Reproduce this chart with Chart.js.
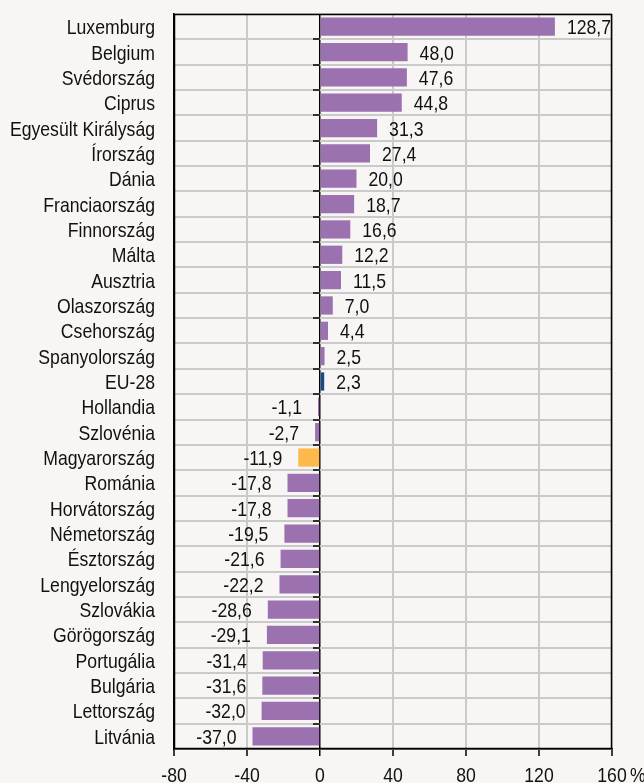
<!DOCTYPE html>
<html lang="hu">
<head>
    <meta charset="UTF-8">
    <title>Változás, %</title>
    <style>
        html, body {
            margin: 0;
            padding: 0;
            background-color: #f7f6f4;
        }

        .wrap {
            position: relative;
            width: 644px;
            height: 783px;
        }
    </style>
    <script src="https://cdn.jsdelivr.net/npm/chart.js"></script>
</head>
<body>
    <div class="wrap">
        <canvas id="chart"></canvas>
    </div>
    <script>
        // Országok és értékek (%)
        const countries = [
            'Luxemburg', 'Belgium', 'Svédország', 'Ciprus', 'Egyesült Királyság',
            'Írország', 'Dánia', 'Franciaország', 'Finnország', 'Málta',
            'Ausztria', 'Olaszország', 'Csehország', 'Spanyolország', 'EU-28',
            'Hollandia', 'Szlovénia', 'Magyarország', 'Románia', 'Horvátország',
            'Németország', 'Észtország', 'Lengyelország', 'Szlovákia', 'Görögország',
            'Portugália', 'Bulgária', 'Lettország', 'Litvánia'
        ];
        const values = [
            128.7, 48.0, 47.6, 44.8, 31.3,
            27.4, 20.0, 18.7, 16.6, 12.2,
            11.5, 7.0, 4.4, 2.5, 2.3,
            -1.1, -2.7, -11.9, -17.8, -17.8,
            -19.5, -21.6, -22.2, -28.6, -29.1,
            -31.4, -31.6, -32.0, -37.0
        ];
        const xTicks = [-80, -40, 0, 40, 80, 120, 160];

        const FONT = '21px "Liberation Sans", Arial, sans-serif';
        const GRID = '#cacaca';
        const barColors = countries.map(c =>
            c === 'Magyarország' ? '#fdb94b' : c === 'EU-28' ? '#1d4a86' : '#9b71b0');

        // keskeny (Arial Narrow-szerű) szöveg: vízszintesen összenyomva
        function narrowText(ctx, text, x, y, align) {
            ctx.save();
            ctx.translate(x, y);
            ctx.scale(0.84, 1);
            ctx.textAlign = align;
            ctx.fillText(text, 0, 0);
            ctx.restore();
        }

        // feliratok, keret, tengelyjelek
        const extras = {
            id: 'extras',
            afterDraw(chart) {
                const ctx = chart.ctx;
                const a = chart.chartArea;
                const x = chart.scales.x;
                const y = chart.scales.y;
                const zero = Math.round(x.getPixelForValue(0));
                ctx.save();
                ctx.strokeStyle = '#000';
                ctx.lineWidth = 1.5;
                // kis jelek a nulla vonalon
                ctx.beginPath();
                for (let i = 1; i < countries.length; i++) {
                    const py = Math.round((y.getPixelForValue(i - 1) + y.getPixelForValue(i)) / 2);
                    ctx.moveTo(zero - 7, py);
                    ctx.lineTo(zero, py);
                }
                ctx.stroke();
                ctx.strokeRect(Math.round(a.left) + 0.5, Math.round(a.top) + 0.5,
                    Math.round(a.right - a.left) - 1, Math.round(a.bottom - a.top) - 1);

                ctx.font = FONT;
                ctx.fillStyle = '#111';
                ctx.textBaseline = 'alphabetic';
                // országnevek
                countries.forEach((c, i) => {
                    narrowText(ctx, c, a.left - 19, y.getPixelForValue(i) + 7.5, 'right');
                });
                // értékcímkék
                chart.getDatasetMeta(0).data.forEach((bar, i) => {
                    const txt = values[i].toFixed(1).replace('.', ',');
                    if (values[i] >= 0) {
                        narrowText(ctx, txt, bar.x + 12, bar.y + 7.5, 'left');
                    } else {
                        narrowText(ctx, txt, bar.x - 16, bar.y + 7.5, 'right');
                    }
                });
                // x tengely feliratai
                xTicks.forEach(v => {
                    narrowText(ctx, String(v), x.getPixelForValue(v), a.bottom + 33, 'center');
                });
                narrowText(ctx, '%', x.getPixelForValue(160) + 18, a.bottom + 33, 'left');
                ctx.restore();
            }
        };

        const ctx = document.getElementById('chart').getContext('2d');
        new Chart(ctx, {
            type: 'bar',
            data: {
                labels: countries,
                datasets: [{
                    data: values,
                    backgroundColor: barColors,
                    borderWidth: 0,
                    barPercentage: 0.72,
                    categoryPercentage: 1
                }]
            },
            options: {
                indexAxis: 'y',
                responsive: true,
                maintainAspectRatio: false,
                animation: false,
                layout: { padding: { left: 0, right: 32, top: 14, bottom: 0 } },
                plugins: {
                    legend: { display: false },
                    tooltip: { enabled: false }
                },
                scales: {
                    x: {
                        min: -80,
                        max: 160,
                        afterBuildTicks: s => { s.ticks = xTicks.map(v => ({ value: v })); },
                        afterFit: s => {
                            s.height = 34;
                            s.paddingLeft = 0;
                            s.paddingRight = 0;
                        },
                        grid: {
                            color: c => c.tick && c.tick.value === 0 ? '#000' : GRID,
                            lineWidth: c => c.tick && c.tick.value === 0 ? 1.5 : 2,
                            tickColor: '#000',
                            tickWidth: 1.5,
                            tickLength: 7
                        },
                        border: { color: '#000', width: 1.5 },
                        ticks: { display: false }
                    },
                    y: {
                        afterFit: s => {
                            s.width = 174;
                            s.paddingTop = 0;
                            s.paddingBottom = 0;
                        },
                        grid: {
                            offset: true,
                            color: GRID,
                            lineWidth: 2,
                            drawTicks: false
                        },
                        border: { color: '#000', width: 1.5 },
                        ticks: { display: false, autoSkip: false }
                    }
                }
            },
            plugins: [extras]
        });
    </script>
</body>
</html>
